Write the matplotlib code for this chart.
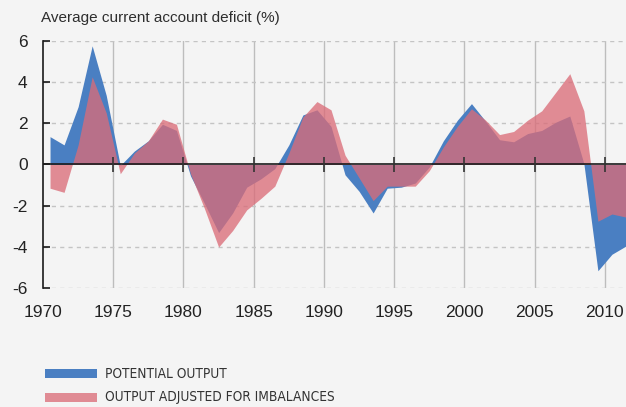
import matplotlib
matplotlib.use("Agg")
import matplotlib.pyplot as plt
import numpy as np
from matplotlib import font_manager

years = list(range(1970, 2012))
potential = [1.35, 0.95, 2.8, 5.75, 3.35, -0.05, 0.65, 1.15, 1.95, 1.65,
             -0.55, -1.9, -3.3, -2.35, -1.1, -0.7, -0.2, 0.95, 2.4, 2.65,
             1.85, -0.5, -1.3, -2.35, -1.15, -1.1, -0.9, -0.12, 1.15, 2.15,
             2.95, 2.1, 1.2, 1.1, 1.5, 1.65, 2.05, 2.35, 0.05, -5.15,
             -4.35, -3.95]
adjusted = [-1.15, -1.35, 0.95, 4.25, 2.5, -0.45, 0.55, 1.15, 2.2, 1.95,
            -0.45, -2.15, -4.0, -3.2, -2.2, -1.65, -1.05, 0.55, 2.3, 3.05,
            2.65, 0.45, -0.65, -1.75, -1.05, -1.05, -1.05, -0.3, 0.85, 1.85,
            2.7, 2.15, 1.45, 1.6, 2.15, 2.6, 3.5, 4.4, 2.6, -2.75,
            -2.4, -2.55]
x_ticks = [1970, 1975, 1980, 1985, 1990, 1995, 2000, 2005, 2010]
y_ticks = [-6, -4, -2, 0, 2, 4, 6]
legend_labels = ["POTENTIAL OUTPUT", "OUTPUT ADJUSTED FOR IMBALANCES"]

# look for a narrow font for the legend, else shrink the regular one
narrow_file = None
for f in font_manager.fontManager.ttflist:
    low = f.fname.lower()
    if ("narrow" in low or "condensed" in low) and "bold" not in low and "oblique" not in low \
            and "italic" not in low:
        if narrow_file is None or "liberation" in low:
            narrow_file = f.fname
if narrow_file:
    legend_font = font_manager.FontProperties(fname=narrow_file, size=9.8)
else:
    legend_font = font_manager.FontProperties(family="Liberation Sans", size=9)

plt.rcParams["font.family"] = ["Liberation Sans", "DejaVu Sans"]
plt.rcParams["axes.unicode_minus"] = False

bg = "#f4f4f4"
blue = "#4a7fc2"
pink = "#da6c78"

fig = plt.figure(figsize=(6.26, 4.07), dpi=100, facecolor=bg)
ax = fig.add_axes([0.0687, 0.2917, 0.9313, 0.6083], facecolor=bg)

# data points sit in the middle of each year
xs = np.array(years) + 0.5
ax.fill_between(xs, potential, 0, color=blue, lw=0, zorder=2)
ax.fill_between(xs, adjusted, 0, color=pink, alpha=0.77, lw=0, zorder=3)

ax.set_xlim(1970, 2011.5)
ax.set_ylim(-6, 6)

for t in x_ticks[1:]:
    ax.axvline(t, color="#bdbdbd", lw=1.0, zorder=1)
for t in y_ticks:
    if t != 0:
        ax.axhline(t, color="#c4c4c4", lw=1.0, ls=(0, (3, 3)), zorder=1)
ax.axhline(0, color="#1a1a1a", lw=1.2, zorder=4)
ax.vlines(x_ticks[1:], -0.35, 0.35, color="#333333", lw=1.2, zorder=4)

for s in ["top", "right", "bottom"]:
    ax.spines[s].set_visible(False)
ax.spines["left"].set_color("#1a1a1a")
ax.spines["left"].set_linewidth(1.2)

ax.set_xticks(x_ticks)
ax.set_yticks(y_ticks)
ax.tick_params(axis="x", length=0, pad=12, labelsize=12.5, labelcolor="#222222")
ax.tick_params(axis="y", direction="in", length=5, width=1.2, color="#1a1a1a",
               pad=11, labelsize=12.5, labelcolor="#222222")

fig.text(0.0655, 0.945, "Average current account deficit (%)", fontsize=11,
         color="#2e2e2e", ha="left", va="baseline")

# legend drawn by hand, stacked under the plot
for i, (lab, col, a) in enumerate(zip(legend_labels, [blue, pink], [1.0, 0.77])):
    yb = 0.0713 - i * 0.0583
    fig.patches.append(plt.Rectangle((0.0719, yb), 0.0831, 0.022, transform=fig.transFigure,
                                     facecolor=col, alpha=a, lw=0, figure=fig))
    fig.text(0.168, yb + 0.011, lab, fontproperties=legend_font, color="#333333",
             ha="left", va="center")

fig.savefig("out.png", dpi=100, facecolor=bg)
